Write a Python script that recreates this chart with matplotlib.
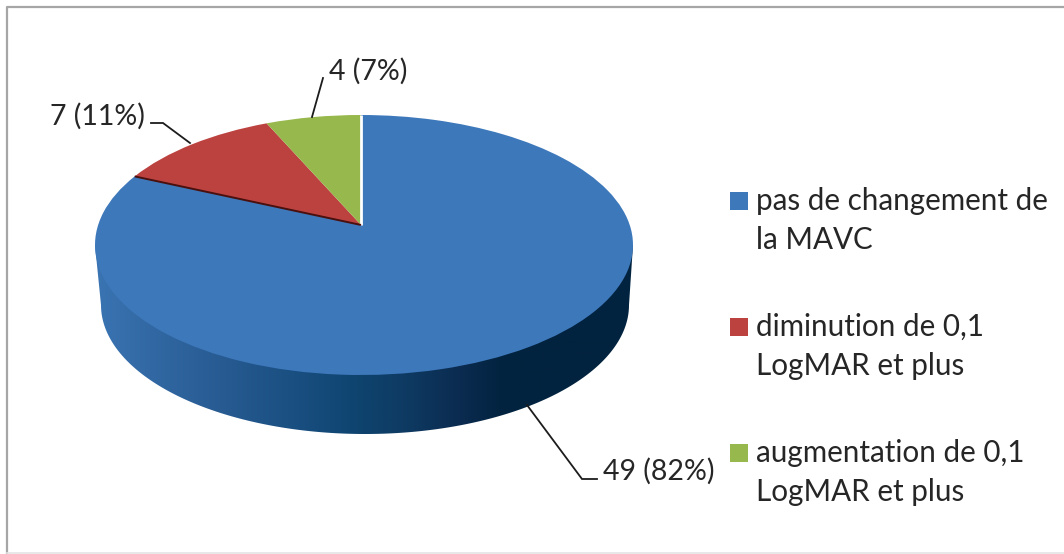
import numpy as np
import matplotlib
matplotlib.use("Agg")
import matplotlib.pyplot as plt
from matplotlib.transforms import Transform
from matplotlib.patches import Polygon, Rectangle
from matplotlib.colors import LinearSegmentedColormap

# Data
categories = ["pas de changement de\nla MAVC",
              "diminution de 0,1\nLogMAR et plus",
              "augmentation de 0,1\nLogMAR et plus"]
values = [49, 7, 4]
percent_labels = ["49 (82%)", "7 (11%)", "4 (7%)"]
colors = ["#3D78BB", "#BC4240", "#97B84C"]

plt.rcParams["font.family"] = ["Lato", "DejaVu Sans"]
TEXT = "#262626"
LINE = "#1c1c1c"
W, H = 1064, 554

# Perspective geometry of the disc, in figure pixels
CX, CY, A, B, K = 364.0, 245.0, 269.0, 130.0, 0.154
SKEW = 0.011
BCX, BCY, BA, BB = 365.0, 305.0, 264.0, 129.0


class DiscPerspective(Transform):
    input_dims = 2
    output_dims = 2

    def transform_non_affine(self, xy):
        xy = np.asarray(xy, dtype=float)
        d = 1 + K * xy[:, 1]
        u = xy[:, 0] * np.sqrt(1 - K ** 2) / d
        v = (xy[:, 1] + K) / d
        u = u - SKEW * (1 - u ** 2)
        return np.column_stack([CX + A * u, CY - B * v])


fig = plt.figure(figsize=(W / 100, H / 100), dpi=100)
ax = fig.add_axes([0, 0, 1, 1])

wedges, _ = ax.pie(values, colors=colors, startangle=90, counterclock=False,
                   wedgeprops={"linewidth": 0})
ax.set_aspect("auto")
ax.set_frame_on(False)
warp = DiscPerspective() + ax.transData
for w in wedges:
    w.set_transform(warp)
    w.set_zorder(3)

# Side wall with its horizontal shading
wall_cmap = LinearSegmentedColormap.from_list("wall", [
    (0.00, "#3A74B2"), (0.20, "#2A5E96"), (0.38, "#194E80"), (0.48, "#0E4570"),
    (0.58, "#0E3A62"), (0.68, "#0B2B50"), (0.76, "#02233F"), (1.00, "#02233F")])
t = np.linspace(np.pi, 0, 200)
wall_pts = np.vstack([[[CX - A, CY]],
                      np.column_stack([BCX + BA * np.cos(t), BCY + BB * np.sin(t)]),
                      [[CX + A, CY]]])
img = ax.imshow(np.linspace(0, 1, 256)[None, :], cmap=wall_cmap, aspect="auto",
                extent=[CX - A, CX + A, 440, CY - 5], zorder=2)
clip = Polygon(wall_pts, closed=True, transform=ax.transData, fc="none", ec="none")
ax.add_patch(clip)
img.set_clip_path(clip)

ax.set_xlim(0, W)
ax.set_ylim(H, 0)
ax.set_xticks([])
ax.set_yticks([])

# Bright and dark seams along the slices
boundary = np.radians(360 * values[0] / sum(values))
ax.plot([0, 0], [0, 1], color="white", lw=2.0, transform=warp, zorder=4,
        solid_capstyle="butt")
ax.plot([0, np.sin(boundary)], [0, np.cos(boundary)], color="#4a100e", lw=1.4,
        transform=warp, zorder=4, solid_capstyle="butt")

# Leaders
for xs, ys in [([527, 582, 597], [405, 479, 479]),
               ([190, 163, 151], [143, 123, 123]),
               ([312, 323], [117, 78])]:
    ax.plot(xs, ys, color=LINE, lw=1.3, zorder=5, solid_joinstyle="miter")

# Data labels
for label, (x, y) in zip(percent_labels, [(603, 480), (50, 125), (329, 80)]):
    ax.text(x, y, label, fontsize=20.5, color=TEXT, ha="left", va="baseline", zorder=6)

# Legend
for cat, col, y0 in zip(categories, colors, [192, 318, 444]):
    ax.add_patch(Rectangle((730, y0), 18, 18, fc=col, ec="none", zorder=6))
    line1, line2 = cat.split("\n")
    ax.text(756, y0 + 18, line1, fontsize=21.3, color=TEXT, ha="left", va="baseline", zorder=6)
    ax.text(756, y0 + 57, line2, fontsize=21.3, color=TEXT, ha="left", va="baseline", zorder=6)

# Chart frame
ax.plot([W, 7, 7], [7, 7, 553], color="#A6A6A6", lw=1.6, zorder=1)
ax.plot([7, W], [553, 553], color="#E4E4E4", lw=1.2, zorder=1)

fig.savefig("out.png", dpi=100, facecolor="white")
